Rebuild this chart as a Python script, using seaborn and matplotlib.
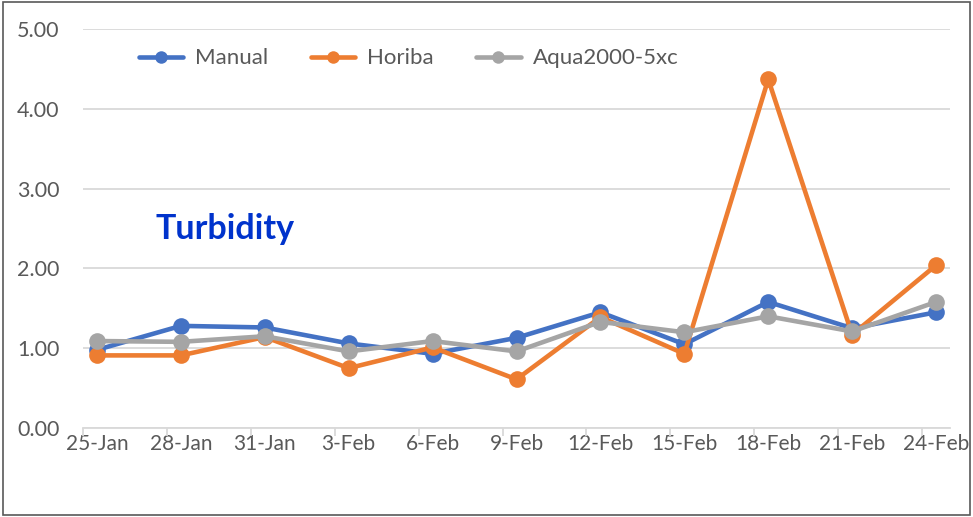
import numpy as np
import pandas as pd
import matplotlib
matplotlib.use("Agg")
import matplotlib.pyplot as plt
import seaborn as sns
from matplotlib.patches import Rectangle

# 读图得到的数据
dates = ['25-Jan', '28-Jan', '31-Jan', '3-Feb', '6-Feb', '9-Feb',
         '12-Feb', '15-Feb', '18-Feb', '21-Feb', '24-Feb']
day_offset = [0, 3, 6, 9, 12, 15, 18, 21, 24, 27, 30]  # 距25-Jan的天数
manual = [0.98, 1.28, 1.26, 1.06, 0.93, 1.13, 1.45, 1.05, 1.58, 1.25, 1.45]
horiba = [0.91, 0.91, 1.14, 0.75, 1.01, 0.61, 1.39, 0.93, 4.37, 1.17, 2.04]
aqua = [1.09, 1.08, 1.15, 0.96, 1.09, 0.96, 1.33, 1.20, 1.40, 1.21, 1.58]
series_names = ['Manual', 'Horiba', 'Aqua2000-5xc']
colors = ['#4472C4', '#ED7D31', '#A5A5A5']

df = pd.DataFrame({'day': day_offset, 'Manual': manual,
                   'Horiba': horiba, 'Aqua2000-5xc': aqua})
long_df = df.melt(id_vars='day', var_name='series', value_name='value')

sns.set_theme(style='white')
plt.rcParams['font.family'] = ['Lato', 'DejaVu Sans']

fig = plt.figure(figsize=(9.73, 5.17), dpi=100)
ax = fig.add_axes([0.0853, 0.1721, 0.8911, 0.7718])

sns.lineplot(data=long_df, x='day', y='value', hue='series',
             hue_order=series_names, palette=colors, marker='o',
             markersize=12, markeredgewidth=0, linewidth=3.3,
             sort=False, ax=ax)

# 坐标轴
ax.set_xlim(-0.5, 30.5)
ax.set_ylim(0, 5)
ax.set_yticks(np.arange(0, 5.01, 1))
ax.set_yticklabels([f'{v:.2f}' for v in np.arange(0, 5.01, 1)])
ax.set_xticks(day_offset)
ax.set_xticklabels(dates)
ax.set_xticks(np.arange(-0.5, 30, 3), minor=True)
ax.tick_params(axis='x', which='major', length=0, pad=4, labelsize=15, labelcolor='#595959')
ax.tick_params(axis='x', which='minor', length=6, width=1.3, color='#D9D9D9', direction='out', bottom=True)
ax.tick_params(axis='y', length=0, pad=17, labelsize=15.5, labelcolor='#595959')
ax.set_xlabel('')
ax.set_ylabel('')
ax.grid(axis='y', color='#D9D9D9', linewidth=1.3)
ax.grid(axis='x', visible=False)
for side in ['top', 'right', 'left']:
    ax.spines[side].set_visible(False)
ax.spines['bottom'].set_color('#D9D9D9')
ax.spines['bottom'].set_linewidth(1.3)
ax.set_axisbelow(True)

ax.text(4.57, 2.49, 'Turbidity', color='#0033CC', fontsize=24.5,
        fontweight='bold', ha='center', va='center')

leg = ax.legend(loc='upper left', bbox_to_anchor=(0.122, 0.945),
                bbox_transform=fig.transFigure, ncol=3, frameon=False,
                fontsize=16, handlelength=2.0, handletextpad=0.55,
                columnspacing=1.9, markerscale=0.75)
for t in leg.get_texts():
    t.set_color('#595959')

# 外边框
fig.patches.append(Rectangle((0.003, 0.003), 0.994, 0.994, transform=fig.transFigure,
                             fill=False, edgecolor='#595959', linewidth=1.2))

fig.savefig('out.png', dpi=100)
